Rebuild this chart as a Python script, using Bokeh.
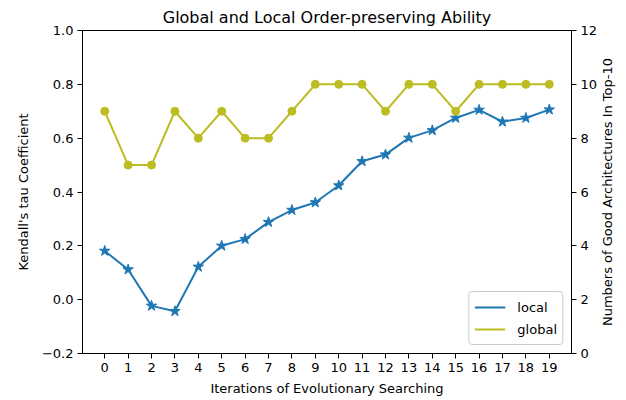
import math
from bokeh.plotting import figure
from bokeh.models import (Range1d, LinearAxis, FixedTicker, Legend, LegendItem, Label)
from bokeh.embed import file_html
from bokeh.resources import INLINE

iterations = list(range(20))
local_tau = [0.181, 0.112, -0.023, -0.043, 0.122, 0.200, 0.225, 0.288, 0.333, 0.361,
             0.424, 0.514, 0.539, 0.601, 0.629, 0.675, 0.705, 0.661, 0.675, 0.706]
global_good = [9, 7, 7, 9, 8, 9, 8, 8, 9, 10, 10, 10, 9, 10, 10, 9, 10, 10, 10, 10]
left_ticks = [-0.2, 0.0, 0.2, 0.4, 0.6, 0.8, 1.0]
right_ticks = [0, 2, 4, 6, 8, 10, 12]

FONT = "DejaVu Sans"

p = figure(width=626, height=400, output_backend="svg", toolbar_location=None,
           x_range=Range1d(-0.95, 19.95), y_range=Range1d(-0.2, 1.0),
           min_border_left=82, min_border_right=55, min_border_top=30, min_border_bottom=47)

p.title.text = "Global and Local Order-preserving Ability"
p.title.align = "center"
p.title.text_font = FONT
p.title.text_font_size = "16px"
p.title.text_font_style = "normal"
p.title.text_color = "black"
p.title.offset = 0
p.title.standoff = 8

p.extra_y_ranges = {"right": Range1d(0, 12)}
p.xgrid.visible = False
p.ygrid.visible = False
p.outline_line_color = "black"
p.outline_line_width = 1
p.outline_line_alpha = 1
p.background_fill_color = "white"
p.border_fill_color = "white"

def style_axis(ax):
    ax.axis_line_color = "black"
    ax.major_tick_line_color = "black"
    ax.major_tick_out = 5
    ax.major_tick_in = 0
    ax.minor_tick_line_color = None
    ax.major_label_text_font = FONT
    ax.major_label_text_font_size = "13px"
    ax.major_label_text_color = "black"
    ax.axis_label_text_font = FONT
    ax.axis_label_text_font_size = "13px"
    ax.axis_label_text_font_style = "normal"
    ax.axis_label_text_color = "black"
    ax.major_label_standoff = 4

xa = p.xaxis[0]
style_axis(xa)
xa.ticker = FixedTicker(ticks=iterations)
xa.axis_label = "Iterations of Evolutionary Searching"
xa.axis_label_standoff = 6

ya = p.yaxis[0]
style_axis(ya)
ya.ticker = FixedTicker(ticks=left_ticks)
ya.major_label_overrides = {t: (f"{t:.1f}".replace("-", "\u2212")) for t in left_ticks}
ya.axis_label = "Kendall's tau Coefficient"
ya.axis_label_standoff = 8

ra = LinearAxis(y_range_name="right")
style_axis(ra)
ra.ticker = FixedTicker(ticks=right_ticks)
p.add_layout(ra, "right")

right_label = Label(x=7, y=161.5, x_units="screen", y_units="screen",
                    text="Numbers of Good Architectures In Top-10",
                    angle=math.pi / 2, text_align="center", text_baseline="middle",
                    text_font=FONT, text_font_size="13px", text_color="black")
p.add_layout(right_label, "right")

c_local = "#1f77b4"
c_global = "#bcbd22"

l1 = p.line(iterations, local_tau, line_color=c_local, line_width=2)
p.scatter(iterations, local_tau, marker="star", size=11, fill_color=c_local, line_color=c_local)
l2 = p.line(iterations, global_good, y_range_name="right", line_color=c_global, line_width=2)
p.scatter(iterations, global_good, y_range_name="right", marker="circle", size=8,
          fill_color=c_global, line_color=c_global)

legend = Legend(items=[LegendItem(label="local", renderers=[l1]),
                       LegendItem(label="global", renderers=[l2])],
                location="bottom_right")
legend.label_text_font = FONT
legend.label_text_font_size = "13px"
legend.label_text_color = "black"
legend.border_line_color = "#cccccc"
legend.border_line_alpha = 1
legend.border_radius = 4
legend.margin = 8
legend.padding = 5
legend.spacing = 2
legend.glyph_width = 31
legend.label_standoff = 12
p.add_layout(legend)

open("out.html", "w").write(file_html(p, INLINE))
